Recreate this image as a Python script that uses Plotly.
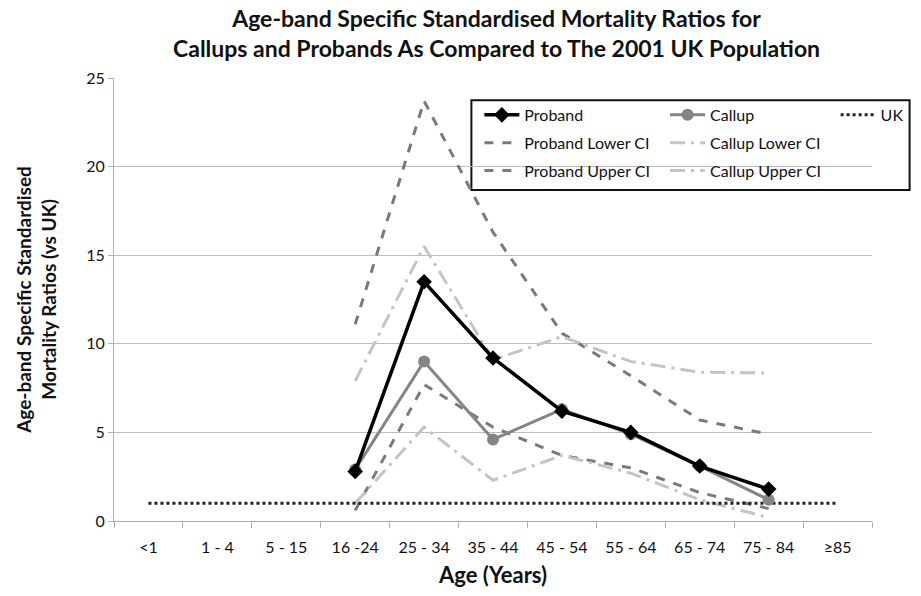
import plotly.graph_objects as go

categories = ["<1", "1 - 4", "5 - 15", "16 -24", "25 - 34", "35 - 44", "45 - 54",
              "55 - 64", "65 - 74", "75 - 84", "≥85"]
band_cats = categories[3:10]

proband = [2.8, 13.5, 9.2, 6.2, 5.0, 3.1, 1.8]
callup = [2.9, 9.0, 4.6, 6.3, 4.9, 3.1, 1.2]
proband_lower = [0.6, 7.7, 5.3, 3.7, 3.0, 1.6, 0.7]
proband_upper = [11.1, 23.7, 16.3, 10.6, 8.2, 5.7, 4.9]
callup_lower = [1.0, 5.3, 2.3, 3.7, 2.7, 1.2, 0.2]
callup_upper = [7.9, 15.5, 9.1, 10.4, 9.0, 8.4, 8.35]
uk = [1.0] * len(categories)

FONT = "Lato, 'Open Sans', sans-serif"
fig = go.Figure()

fig.add_trace(go.Scatter(x=band_cats, y=proband_upper, name="Proband Upper CI", mode="lines",
                         line=dict(color="#7a7a7a", width=3, dash="dash"), legend="legend",
                         legendgroup="pu", legendrank=3))
fig.add_trace(go.Scatter(x=band_cats, y=proband_lower, name="Proband Lower CI", mode="lines",
                         line=dict(color="#7a7a7a", width=3, dash="dash"), legend="legend",
                         legendgroup="pl", legendrank=2))
fig.add_trace(go.Scatter(x=band_cats, y=callup_upper, name="Callup Upper CI", mode="lines",
                         line=dict(color="#c4c4c4", width=3, dash="longdashdot"), legend="legend2",
                         legendgroup="cu", legendrank=3))
fig.add_trace(go.Scatter(x=band_cats, y=callup_lower, name="Callup Lower CI", mode="lines",
                         line=dict(color="#c4c4c4", width=3, dash="longdashdot"), legend="legend2",
                         legendgroup="cl", legendrank=2))
fig.add_trace(go.Scatter(x=categories, y=uk, name="UK", mode="lines",
                         line=dict(color="#222222", width=3, dash="dot"), legend="legend3",
                         legendgroup="uk", legendrank=1))
fig.add_trace(go.Scatter(x=band_cats, y=callup, name="Callup", mode="lines+markers",
                         line=dict(color="#858585", width=3),
                         marker=dict(symbol="circle", size=12, color="#858585"), legend="legend2",
                         legendgroup="c", legendrank=1))
fig.add_trace(go.Scatter(x=band_cats, y=proband, name="Proband", mode="lines+markers",
                         line=dict(color="#000000", width=3.5),
                         marker=dict(symbol="diamond", size=12, color="#000000"), legend="legend",
                         legendgroup="p", legendrank=1))

leg_common = dict(bgcolor="rgba(0,0,0,0)", borderwidth=0, font=dict(family=FONT, size=16, color="#111"),
                  yanchor="top", xanchor="left", traceorder="grouped", tracegroupgap=4,
                  itemwidth=35)

fig.update_layout(
    width=921, height=596,
    margin=dict(l=114, r=41, t=78, b=75),
    paper_bgcolor="white", plot_bgcolor="white",
    annotations=[dict(text="<b>Age-band Specific Standardised Mortality Ratios for<br>Callups and Probands As Compared to The 2001 UK Population</b>",
                      xref="paper", yref="paper", x=0.504, y=1.172, xanchor="center", yanchor="top",
                      showarrow=False, font=dict(family=FONT, size=23, color="#111"))],
    xaxis=dict(type="category", categoryorder="array", categoryarray=categories,
               range=[-0.5, 10.5], showgrid=False, showline=True, linecolor="#b0b0b0", linewidth=1,
               ticks="outside", tickson="boundaries", ticklen=6, tickcolor="#b0b0b0",
               ticklabelstandoff=12,
               tickfont=dict(family=FONT, size=16, color="#111"),
               title=dict(text="<b>Age (Years)</b>", font=dict(family=FONT, size=22, color="#111"), standoff=12)),
    yaxis=dict(range=[0, 25], dtick=5, showgrid=True, gridcolor="#bdbdbd", gridwidth=1,
               showline=True, linecolor="#b0b0b0", linewidth=1, ticks="outside", ticklen=5,
               tickcolor="#b0b0b0", zeroline=False,
               tickfont=dict(family=FONT, size=16, color="#111"),
               title=dict(text="<b>Age-band Specific Standardised<br>Mortality Ratios (vs UK)</b>",
                          font=dict(family=FONT, size=19, color="#111"), standoff=24)),
    legend=dict(x=0.482, y=0.955, **leg_common),
    legend2=dict(x=0.727, y=0.955, **leg_common),
    legend3=dict(x=0.952, y=0.955, **leg_common),
    shapes=[dict(type="rect", xref="paper", yref="paper", x0=0.4715, x1=1.0496, y0=0.747, y1=0.950,
                 line=dict(color="#111", width=2), fillcolor="rgba(0,0,0,0)", layer="below")],
    showlegend=True,
)

fig.write_html("out.html")
